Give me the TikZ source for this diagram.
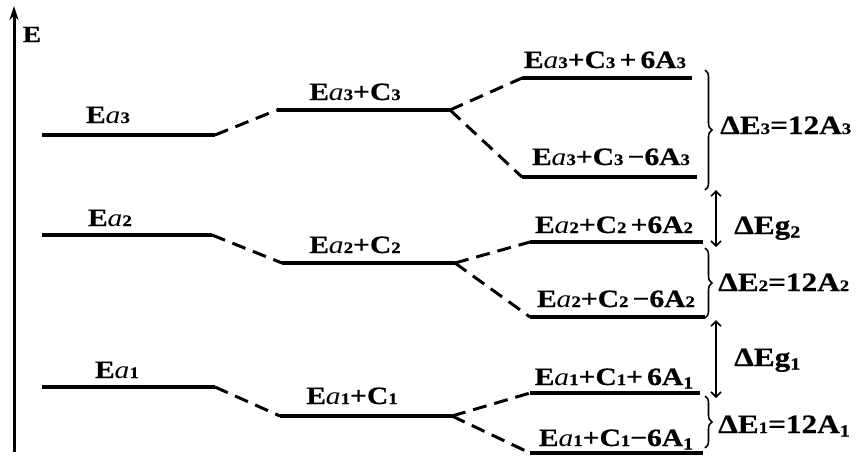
\documentclass[tikz,border=0pt]{standalone}
\usepackage{fontspec}
\setmainfont[FakeStretch=1.18,BoldFeatures={FakeBold=0.6}]{Liberation Serif}
\usetikzlibrary{decorations.pathreplacing,arrows.meta}
% small index digit sitting on the baseline
\newcommand{\sd}[1]{{\fontsize{16}{16}\selectfont #1}}
% small index digit set as a real subscript
\newcommand{\sdl}[1]{\raisebox{-3.5pt}{\fontsize{17}{17}\selectfont #1}}
% light italic a
\newcommand{\ia}{{\mdseries\itshape a}}
\begin{document}
\begin{tikzpicture}[x=1pt,y=-1pt,
  level/.style={line width=3.4pt},
  link/.style={line width=3pt, dash pattern=on 14pt off 8pt},
  lab/.style={anchor=base, inner sep=0pt, font=\fontsize{25}{25}\selectfont\bfseries},
  gaplab/.style={lab, anchor=base west, font=\fontsize{26.5}{26.5}\selectfont\bfseries},
  gaparrow/.style={line width=1.6pt, {Straight Barb[length=5pt,width=10pt]}-{Straight Barb[length=5pt,width=10pt]}},
  brc/.style={decorate, decoration={brace, amplitude=7pt}, line width=1.6pt}]
\useasboundingbox (0,0) rectangle (863,459);

% energy axis
\coordinate (axB) at (14,452);
\coordinate (axT) at (14,6);
\draw[line width=3pt, -{Stealth[length=14pt,width=9pt]}] (axB) -- (axT);
\node[lab, font=\fontsize{23}{23}\selectfont\bfseries] (axE) at (32,42) {E};

% level end points
\coordinate (a3L) at (42,135);  \coordinate (a3R) at (215,135);
\coordinate (c3L) at (277,110); \coordinate (c3R) at (450,110);
\coordinate (p3L) at (522,78);  \coordinate (p3R) at (692,78);
\coordinate (m3L) at (522,177); \coordinate (m3R) at (697,177);

\coordinate (a2L) at (42,235);  \coordinate (a2R) at (212,235);
\coordinate (c2L) at (282,263); \coordinate (c2R) at (455,263);
\coordinate (p2L) at (530,242); \coordinate (p2R) at (703,242);
\coordinate (m2L) at (530,317); \coordinate (m2R) at (705,317);

\coordinate (a1L) at (42,387);  \coordinate (a1R) at (215,387);
\coordinate (c1L) at (280,416); \coordinate (c1R) at (452,416);
\coordinate (p1L) at (530,393); \coordinate (p1R) at (700,393);
\coordinate (m1L) at (530,453); \coordinate (m1R) at (703,453);

% solid levels and dashed links
\foreach \n in {3,2,1}{
  \draw[level] (a\n L) -- (a\n R);
  \draw[level] (c\n L) -- (c\n R);
  \draw[level] (p\n L) -- (p\n R);
  \draw[level] (m\n L) -- (m\n R);
  \draw[link] (a\n R) -- (c\n L);
  \draw[link] (c\n R) -- (p\n L);
  \draw[link] (c\n R) -- (m\n L);
}

% level labels
\node[lab] (la3) at (108,123) {E\ia\sd{3}};
\node[lab] (lc3) at (355,100) {E\ia\sd{3}+C\sd{3}};
\node[lab] (lp3) at (605,68)  {E\ia\sd{3}+C\sd{3}\,+\,6A\sd{3}};
\node[lab] (lm3) at (611,165) {E\ia\sd{3}+C\sd{3}\,−6A\sd{3}};

\node[lab] (la2) at (110,226) {E\ia\sd{2}};
\node[lab] (lc2) at (355,253) {E\ia\sd{2}+C\sd{2}};
\node[lab] (lp2) at (614,233) {E\ia\sd{2}+C\sd{2}\,+6A\sd{2}};
\node[lab] (lm2) at (616,307) {E\ia\sd{2}+C\sd{2}\,−6A\sd{2}};

\node[lab] (la1) at (117,378) {E\ia\sd{1}};
\node[lab] (lc1) at (352,404) {E\ia\sd{1}+C\sd{1}};
\node[lab] (lp1) at (614,385) {E\ia\sd{1}+C\sd{1}+\,6A\sdl{1}};
\node[lab] (lm1) at (616,446) {E\ia\sd{1}+C\sd{1}−6A\sdl{1}};

% splitting braces
\coordinate (b3T) at (705,70);  \coordinate (b3B) at (705,190);
\coordinate (b2T) at (705,248); \coordinate (b2B) at (705,318);
\coordinate (b1T) at (705,396); \coordinate (b1B) at (705,448);
\draw[brc] (b3T) -- (b3B);
\draw[brc] (b2T) -- (b2B);
\draw[brc] (b1T) -- (b1B);
\node[gaplab] (d3) at (720,134) {ΔE\sd{3}=12A\sd{3}};
\node[gaplab] (d2) at (718,291) {ΔE\sd{2}=12A\sd{2}};
\node[gaplab] (d1) at (718,433) {ΔE\sd{1}=12A\sdl{1}};

% gaps between neighbouring bands
\coordinate (g2T) at (716,190); \coordinate (g2B) at (716,247);
\coordinate (g1T) at (716,320); \coordinate (g1B) at (716,398);
\draw[gaparrow] (g2T) -- (g2B);
\draw[gaparrow] (g1T) -- (g1B);
\node[gaplab] (eg2) at (734,234) {ΔEg\sdl{2}};
\node[gaplab] (eg1) at (734,366) {ΔEg\sdl{1}};
\end{tikzpicture}
\end{document}
